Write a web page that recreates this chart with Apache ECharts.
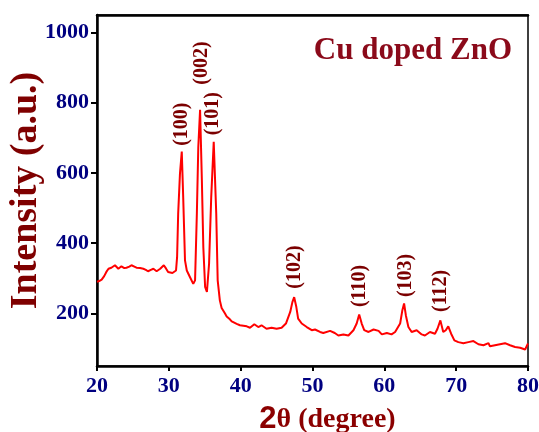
<!DOCTYPE html>
<html>
<head>
<meta charset="utf-8">
<script src="https://cdn.jsdelivr.net/npm/echarts@6/dist/echarts.min.js"></script>
<style>html,body{margin:0;padding:0;background:#fff}#c{width:539px;height:432px}</style>
</head>
<body>
<div id="c"></div>
<script>
// 2θ positions (degree)
const twoTheta = [
  20.0, 20.3, 20.65, 21.0, 21.3, 21.6, 22.0, 22.5, 22.97, 23.4, 23.8, 24.1, 24.5, 24.8, 25.2, 25.5, 26.0, 26.45, 26.8, 27.1, 27.5, 27.85, 28.3, 28.8, 29.3, 29.6, 29.9, 30.5, 31.0,
  31.15, 31.3, 31.55, 31.8, 32.0, 32.25, 32.5, 32.95, 33.4, 33.65, 33.9, 34.1, 34.35, 34.6, 34.8, 35.05, 35.3, 35.6, 35.9, 36.25, 36.6, 36.8,
  37.1, 37.35, 37.8, 38.05, 38.5, 38.75, 39.45, 39.9, 40.1, 40.85, 41.3, 41.9, 42.45, 42.9, 43.6, 44.3, 45.0, 45.7, 46.3, 46.9, 47.2, 47.45, 47.75, 48.0, 48.5,
  49.2, 49.9, 50.35, 51.05, 51.5, 51.7, 52.45, 53.1, 53.6, 54.3, 55.0, 55.7, 56.15, 56.5, 56.85, 57.2, 57.8, 58.5, 59.2, 59.65, 60.35, 61.0, 61.5, 62.2, 62.5, 62.75,
  63.0, 63.35, 63.8, 64.5, 65.2, 65.65, 66.35, 67.05, 67.4, 67.8, 68.2, 68.55, 68.9, 69.3, 69.75, 70.3, 71.0, 71.7, 72.4, 73.1, 73.8, 74.5, 74.7, 75.4, 76.1, 76.8,
  77.5, 78.2, 78.9, 79.6, 80.0
];
// Intensity (a.u.)
const intensity = [
  290, 292, 296, 306, 318, 327, 330, 337, 327, 334, 329, 330, 333, 337, 333, 330, 329, 327, 324, 320, 324, 327, 320, 327, 337, 328, 318, 315, 322,
  360, 484, 598, 661, 531, 351, 322, 303, 284, 294, 484, 673, 780, 578, 389, 275, 261, 341, 531, 689, 484, 294,
  237, 215, 200, 191, 183, 177, 170, 166, 162, 163, 159, 169, 161, 166, 156, 159, 156, 159, 171, 204, 232, 246, 218, 185, 171,
  161, 152, 154, 147, 144, 142, 150, 144, 137, 140, 137, 152, 171, 197, 171, 152, 147, 154, 150, 140, 144, 140, 147, 171, 208, 228,
  194, 161, 147, 152, 140, 137, 147, 142, 156, 180, 147, 152, 163, 142, 123, 118, 115, 118, 121, 112, 109, 115, 106, 109, 112, 115,
  109, 104, 102, 97, 114
];
// Peak (hkl) labels and their anchor points (2θ, intensity)
const peakLabels = ['(100)', '(002)', '(101)', '(102)', '(110)', '(103)', '(112)'];
const peakLabelX = [31.8, 34.6, 36.15, 47.55, 56.6, 62.95, 67.9];
const peakLabelY = [739, 913, 769, 332, 278, 308, 264];
const xTicks = [20, 30, 40, 50, 60, 70, 80];
const yTicks = [200, 400, 600, 800, 1000];

const serif = '"Liberation Serif", "Times New Roman", serif';
const chart = echarts.init(document.getElementById('c'), null, {renderer: 'canvas'});
const option = {
  animation: false,
  backgroundColor: '#fff',
  title: {
    text: 'Cu doped ZnO',
    right: 22, top: 30,
    textStyle: {fontFamily: serif, fontWeight: 'bold', fontSize: 31, color: '#8B0A1A'}
  },
  grid: {left: 97, right: 11, top: 15, bottom: 66, containLabel: false, outerBoundsMode: 'none',
    show: true, borderColor: '#000', borderWidth: 1.5, backgroundColor: 'transparent'},
  xAxis: [{
    type: 'value', min: 20, max: 80, interval: 10,
    axisLine: {show: true, onZero: false, lineStyle: {color: '#000', width: 2.5}},
    axisTick: {show: true, inside: false, length: 5, lineStyle: {color: '#000', width: 2}},
    splitLine: {show: false},
    axisLabel: {margin: 9, formatter: v => String(v), fontFamily: serif, fontWeight: 'bold', fontSize: 22, color: '#000080'},
    name: '{a|2}{b|θ (degree)}',
    nameLocation: 'middle', nameGap: 38, nameMoveOverlap: false,
    nameTextStyle: {
      padding: [0, 0, 0, 30],
      rich: {
        a: {fontFamily: '"Liberation Sans", Arial, sans-serif', fontWeight: 'bold', fontSize: 31, color: '#8B0000'},
        b: {fontFamily: serif, fontWeight: 'bold', fontSize: 28, color: '#8B0000'}
      }
    }
  }, {
    type: 'value', position: 'top', min: 20, max: 80,
    axisLine: {show: true, lineStyle: {color: '#000', width: 2.5}},
    axisTick: {show: false}, axisLabel: {show: false}, splitLine: {show: false}
  }],
  yAxis: [{
    type: 'value', min: 50, max: 1050,
    axisLine: {show: true, onZero: false, lineStyle: {color: '#000', width: 2.5}},
    axisTick: {show: true, inside: false, length: 6, customValues: yTicks, lineStyle: {color: '#000', width: 2}},
    splitLine: {show: false},
    axisLabel: {margin: 8, customValues: yTicks, formatter: v => String(v), fontFamily: serif, fontWeight: 'bold', fontSize: 22, color: '#000080'},
    name: 'Intensity (a.u.)',
    nameLocation: 'middle', nameGap: 52, nameRotate: 90, nameMoveOverlap: false,
    nameTextStyle: {fontFamily: serif, fontWeight: 'bold', fontSize: 38, color: '#7F0000'}
  }],
  series: [{
    type: 'line',
    data: twoTheta.map((x, i) => [x, intensity[i]]),
    showSymbol: false, symbol: 'none',
    lineStyle: {color: '#FF0000', width: 2},
    silent: true
  }, {
    type: 'scatter',
    symbolSize: 0,
    itemStyle: {color: 'transparent', opacity: 1},
    data: peakLabels.map((t, i) => ({name: t, value: [peakLabelX[i], peakLabelY[i]]})),
    label: {
      show: true, position: 'inside', rotate: 90,
      formatter: p => p.name,
      fontFamily: serif, fontWeight: 'bold', fontSize: 20, color: '#7B0000',
      textBorderWidth: 0, textBorderColor: 'transparent'
    },
    silent: true
  }]
};
chart.setOption(option);
</script>
</body>
</html>
